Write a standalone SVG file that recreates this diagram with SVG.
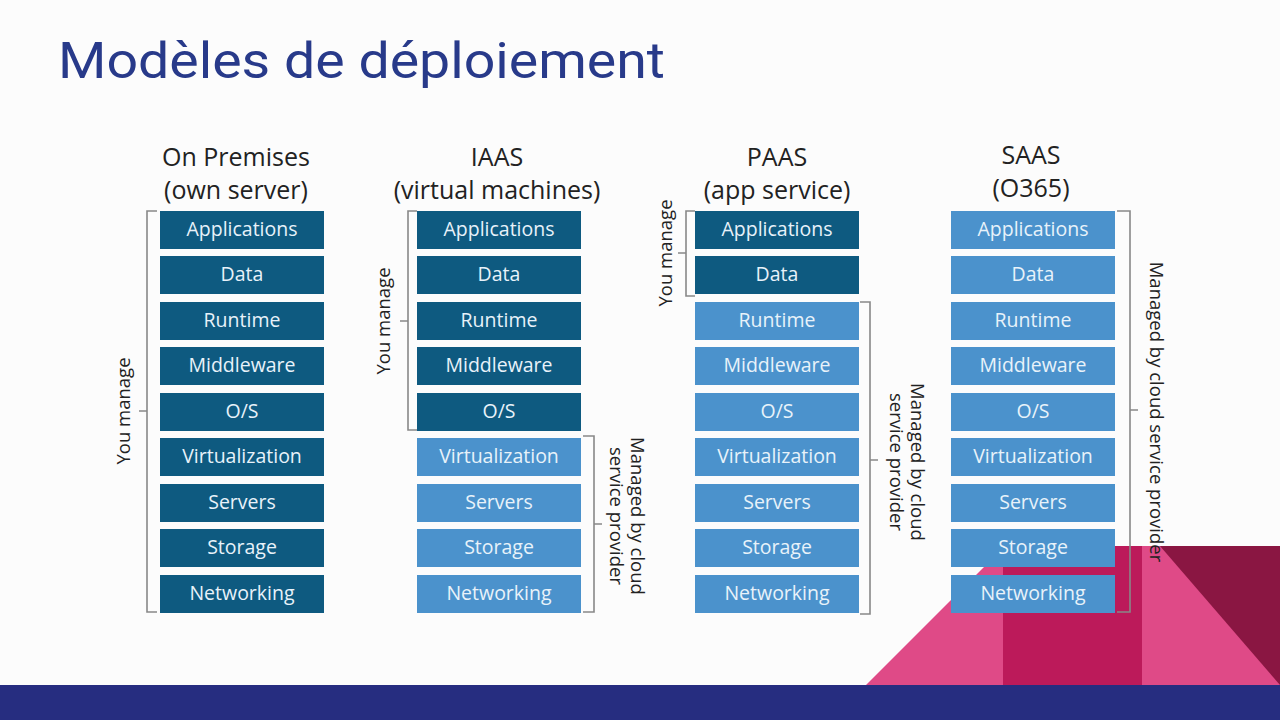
<svg xmlns="http://www.w3.org/2000/svg" width="1280" height="720" viewBox="0 0 1280 720">
<style>
.d{fill:#0e5a80}.l{fill:#4b92cc}
.bt{font-family:"Open Sans",Lato,sans-serif;font-size:19.5px;fill:#e8f2fa;text-anchor:middle}
.h{font-family:"Open Sans",Lato,sans-serif;font-size:25px;fill:#222;text-anchor:middle}
.s{font-family:"Open Sans",Lato,sans-serif;font-size:18.5px;fill:#222;text-anchor:middle}
.br{fill:none;stroke:#888;stroke-width:1.6}
</style>
<rect width="1280" height="720" fill="#fcfcfc"/>
<polygon points="866,685 1003,548 1003,685" fill="#df4a87"/>
<rect x="1003" y="546" width="139" height="139" fill="#bc1a5a"/>
<rect x="1142" y="546" width="138" height="139" fill="#df4a87"/>
<polygon points="1160,546 1280,546 1280,685" fill="#8a1642"/>
<rect y="685" width="1280" height="35" fill="#262d80"/>
<text x="58" y="78" font-family="Roboto,sans-serif" font-size="50" fill="#283a8a" textLength="607" lengthAdjust="spacingAndGlyphs">Modèles de déploiement</text>
<g id="headers">
<text class="h" x="236" y="166">On Premises</text><text class="h" x="236" y="199">(own server)</text>
<text class="h" x="497" y="166">IAAS</text><text class="h" x="497" y="199">(virtual machines)</text>
<text class="h" x="777" y="166">PAAS</text><text class="h" x="777" y="199">(app service)</text>
<text class="h" x="1031" y="164">SAAS</text><text class="h" x="1031" y="197">(O365)</text>
</g>
<g id="col1">
<rect class="d" x="160" y="211" width="164" height="38"/><text class="bt" x="242" y="236">Applications</text>
<rect class="d" x="160" y="256" width="164" height="38"/><text class="bt" x="242" y="281">Data</text>
<rect class="d" x="160" y="302" width="164" height="38"/><text class="bt" x="242" y="327">Runtime</text>
<rect class="d" x="160" y="347" width="164" height="38"/><text class="bt" x="242" y="372">Middleware</text>
<rect class="d" x="160" y="393" width="164" height="38"/><text class="bt" x="242" y="418">O/S</text>
<rect class="d" x="160" y="438" width="164" height="38"/><text class="bt" x="242" y="463">Virtualization</text>
<rect class="d" x="160" y="484" width="164" height="38"/><text class="bt" x="242" y="509">Servers</text>
<rect class="d" x="160" y="529" width="164" height="38"/><text class="bt" x="242" y="554">Storage</text>
<rect class="d" x="160" y="575" width="164" height="38"/><text class="bt" x="242" y="600">Networking</text>
</g>
<g id="col2">
<rect class="d" x="417" y="211" width="164" height="38"/><text class="bt" x="499" y="236">Applications</text>
<rect class="d" x="417" y="256" width="164" height="38"/><text class="bt" x="499" y="281">Data</text>
<rect class="d" x="417" y="302" width="164" height="38"/><text class="bt" x="499" y="327">Runtime</text>
<rect class="d" x="417" y="347" width="164" height="38"/><text class="bt" x="499" y="372">Middleware</text>
<rect class="d" x="417" y="393" width="164" height="38"/><text class="bt" x="499" y="418">O/S</text>
<rect class="l" x="417" y="438" width="164" height="38"/><text class="bt" x="499" y="463">Virtualization</text>
<rect class="l" x="417" y="484" width="164" height="38"/><text class="bt" x="499" y="509">Servers</text>
<rect class="l" x="417" y="529" width="164" height="38"/><text class="bt" x="499" y="554">Storage</text>
<rect class="l" x="417" y="575" width="164" height="38"/><text class="bt" x="499" y="600">Networking</text>
</g>
<g id="col3">
<rect class="d" x="695" y="211" width="164" height="38"/><text class="bt" x="777" y="236">Applications</text>
<rect class="d" x="695" y="256" width="164" height="38"/><text class="bt" x="777" y="281">Data</text>
<rect class="l" x="695" y="302" width="164" height="38"/><text class="bt" x="777" y="327">Runtime</text>
<rect class="l" x="695" y="347" width="164" height="38"/><text class="bt" x="777" y="372">Middleware</text>
<rect class="l" x="695" y="393" width="164" height="38"/><text class="bt" x="777" y="418">O/S</text>
<rect class="l" x="695" y="438" width="164" height="38"/><text class="bt" x="777" y="463">Virtualization</text>
<rect class="l" x="695" y="484" width="164" height="38"/><text class="bt" x="777" y="509">Servers</text>
<rect class="l" x="695" y="529" width="164" height="38"/><text class="bt" x="777" y="554">Storage</text>
<rect class="l" x="695" y="575" width="164" height="38"/><text class="bt" x="777" y="600">Networking</text>
</g>
<g id="col4">
<rect class="l" x="951" y="211" width="164" height="38"/><text class="bt" x="1033" y="236">Applications</text>
<rect class="l" x="951" y="256" width="164" height="38"/><text class="bt" x="1033" y="281">Data</text>
<rect class="l" x="951" y="302" width="164" height="38"/><text class="bt" x="1033" y="327">Runtime</text>
<rect class="l" x="951" y="347" width="164" height="38"/><text class="bt" x="1033" y="372">Middleware</text>
<rect class="l" x="951" y="393" width="164" height="38"/><text class="bt" x="1033" y="418">O/S</text>
<rect class="l" x="951" y="438" width="164" height="38"/><text class="bt" x="1033" y="463">Virtualization</text>
<rect class="l" x="951" y="484" width="164" height="38"/><text class="bt" x="1033" y="509">Servers</text>
<rect class="l" x="951" y="529" width="164" height="38"/><text class="bt" x="1033" y="554">Storage</text>
<rect class="l" x="951" y="575" width="164" height="38"/><text class="bt" x="1033" y="600">Networking</text>
</g>
<g id="connectors">
<path class="br" d="M157,211 H147 V612 H157 M147,411 H139"/>
<path class="br" d="M417,211 H408 V430 H417 M408,321 H400"/>
<path class="br" d="M583,436 H594 V612 H583 M594,524 H602"/>
<path class="br" d="M695,211 H686 V296 H695 M686,253 H678"/>
<path class="br" d="M860,302 H870 V614 H860 M870,460 H878"/>
<path class="br" d="M1117,211 H1130 V612 H1117 M1130,410 H1138"/>
</g>
<g id="labels">
<text class="s" transform="translate(130,411) rotate(-90)">You manage</text>
<text class="s" transform="translate(390,321) rotate(-90)">You manage</text>
<text class="s" transform="translate(672,253) rotate(-90)">You manage</text>
<text class="s" transform="translate(631,516) rotate(90)">Managed by cloud</text>
<text class="s" transform="translate(610,516) rotate(90)">service provider</text>
<text class="s" transform="translate(911,462) rotate(90)">Managed by cloud</text>
<text class="s" transform="translate(890,462) rotate(90)">service provider</text>
<text class="s" transform="translate(1150,412) rotate(90)">Managed by cloud service provider</text>
</g>
</svg>
